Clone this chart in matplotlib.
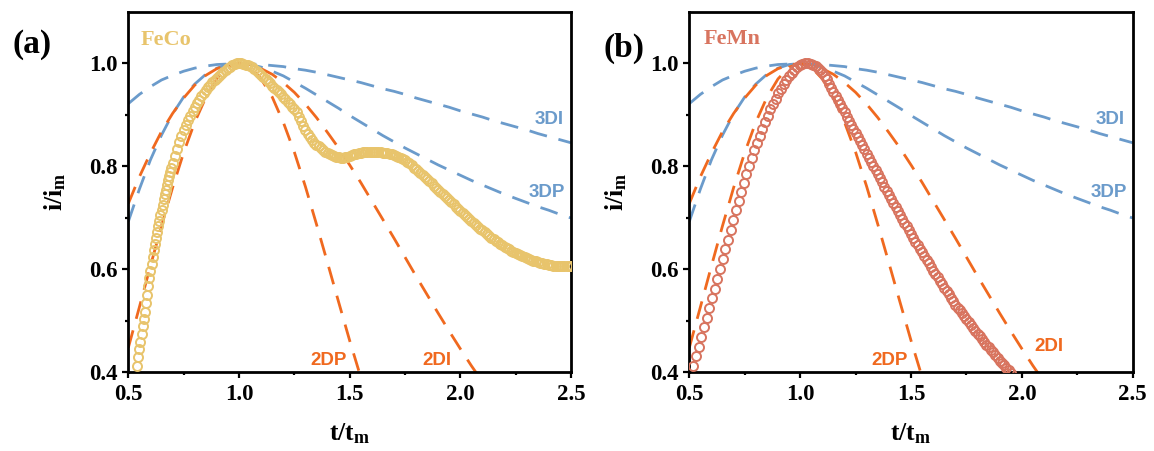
import matplotlib
matplotlib.use("Agg")
import matplotlib.pyplot as plt
from matplotlib.ticker import FixedLocator

plt.rcParams['mathtext.fontset'] = 'custom'
plt.rcParams['mathtext.bf'] = 'Liberation Serif:bold'
plt.rcParams['mathtext.rm'] = 'Liberation Serif'

# ---------------- data ----------------
T_GRID = [0.50, 0.55, 0.60, 0.65, 0.70, 0.75, 0.80, 0.85, 0.90, 0.95,
          1.00, 1.05, 1.10, 1.15, 1.20, 1.25, 1.30, 1.35, 1.40, 1.45,
          1.50, 1.55, 1.60, 1.65, 1.70, 1.75, 1.80, 1.85, 1.90, 1.95,
          2.00, 2.05, 2.10, 2.15, 2.20, 2.25, 2.30, 2.35, 2.40, 2.45, 2.50]

# upper blue dashed curve, labelled "3DI"
CURVE_3DI = [0.922, 0.940, 0.955, 0.968, 0.977, 0.985, 0.991, 0.995, 0.998, 0.999,
             1.000, 0.999, 0.998, 0.996, 0.994, 0.990, 0.987, 0.983, 0.978, 0.973,
             0.968, 0.963, 0.957, 0.951, 0.946, 0.940, 0.933, 0.927, 0.921, 0.915,
             0.908, 0.902, 0.896, 0.889, 0.883, 0.877, 0.871, 0.864, 0.858, 0.852, 0.846]
# lower blue dashed curve, labelled "3DP"
CURVE_3DP = [0.693, 0.756, 0.813, 0.861, 0.902, 0.935, 0.960, 0.979, 0.991, 0.998,
             1.000, 0.998, 0.993, 0.985, 0.976, 0.964, 0.952, 0.939, 0.926, 0.913,
             0.899, 0.886, 0.873, 0.860, 0.848, 0.836, 0.825, 0.814, 0.803, 0.793,
             0.783, 0.773, 0.764, 0.755, 0.746, 0.738, 0.730, 0.722, 0.715, 0.707, 0.700]
# orange dashed curve, labelled "2DI" (first 34 grid points)
CURVE_2DI = [0.728, 0.780, 0.826, 0.868, 0.903, 0.933, 0.958, 0.977, 0.990, 0.997,
             1.000, 0.998, 0.990, 0.979, 0.963, 0.944, 0.921, 0.895, 0.866, 0.836,
             0.803, 0.769, 0.733, 0.697, 0.661, 0.624, 0.587, 0.551, 0.515, 0.480,
             0.446, 0.413, 0.382, 0.351]
# orange dashed curve, labelled "2DP" (first 23 grid points)
CURVE_2DP = [0.448, 0.527, 0.607, 0.685, 0.759, 0.827, 0.886, 0.934, 0.970, 0.993,
             1.000, 0.993, 0.970, 0.935, 0.886, 0.828, 0.761, 0.688, 0.613, 0.537,
             0.462, 0.391, 0.325]

# FeCo experimental transient
FECO_X = [0.537, 0.545, 0.550, 0.555, 0.560, 0.565, 0.570, 0.575, 0.580, 0.585,
          0.590, 0.595, 0.600, 0.605, 0.610, 0.615, 0.620, 0.625, 0.630, 0.635,
          0.640, 0.645, 0.650, 0.655, 0.660, 0.665, 0.670, 0.675, 0.680, 0.685,
          0.690, 0.695, 0.700,
          0.71, 0.72, 0.73, 0.74, 0.75, 0.76, 0.77, 0.78, 0.79, 0.80,
          0.81, 0.82, 0.83, 0.84, 0.85, 0.86, 0.87, 0.88, 0.89, 0.90,
          0.91, 0.92, 0.93, 0.94, 0.95, 0.96, 0.97, 0.98, 0.99, 1.00,
          1.01, 1.02, 1.03, 1.04, 1.05, 1.06, 1.07, 1.08, 1.09, 1.10,
          1.11, 1.12, 1.13, 1.14, 1.15, 1.16, 1.17, 1.18, 1.19, 1.20,
          1.21, 1.22, 1.23, 1.24, 1.25, 1.26, 1.27, 1.28, 1.29, 1.30,
          1.31, 1.32, 1.33, 1.34, 1.35, 1.36, 1.37, 1.38, 1.39, 1.40,
          1.41, 1.42, 1.43, 1.44, 1.45, 1.46, 1.47, 1.48, 1.49, 1.50,
          1.51, 1.52, 1.53, 1.54, 1.55, 1.56, 1.57, 1.58, 1.59, 1.60,
          1.61, 1.62, 1.63, 1.64, 1.65, 1.66, 1.67, 1.68, 1.69, 1.70,
          1.71, 1.72, 1.73, 1.74, 1.75, 1.76, 1.77, 1.78, 1.79, 1.80,
          1.81, 1.82, 1.83, 1.84, 1.85, 1.86, 1.87, 1.88, 1.89, 1.90,
          1.91, 1.92, 1.93, 1.94, 1.95, 1.96, 1.97, 1.98, 1.99, 2.00,
          2.01, 2.02, 2.03, 2.04, 2.05, 2.06, 2.07, 2.08, 2.09, 2.10,
          2.11, 2.12, 2.13, 2.14, 2.15, 2.16, 2.17, 2.18, 2.19, 2.20,
          2.21, 2.22, 2.23, 2.24, 2.25, 2.26, 2.27, 2.28, 2.29, 2.30,
          2.31, 2.32, 2.33, 2.34, 2.35, 2.36, 2.37, 2.38, 2.39, 2.40,
          2.41, 2.42, 2.43, 2.44, 2.45, 2.46, 2.47, 2.48, 2.49, 2.50]
FECO_Y = [0.412, 0.430, 0.445, 0.460, 0.475, 0.490, 0.504, 0.518, 0.534, 0.551,
          0.568, 0.583, 0.597, 0.611, 0.624, 0.637, 0.649, 0.661, 0.673, 0.684,
          0.695, 0.706, 0.716, 0.726, 0.736, 0.746, 0.755, 0.764, 0.773, 0.782,
          0.790, 0.798, 0.806,
          0.820, 0.834, 0.847, 0.859, 0.870, 0.880, 0.890, 0.899, 0.908, 0.916,
          0.923, 0.930, 0.937, 0.943, 0.949, 0.954, 0.959, 0.964, 0.968, 0.972,
          0.976, 0.980, 0.984, 0.988, 0.991, 0.994, 0.997, 0.999, 1.000, 1.000,
          1.000, 0.999, 0.998, 0.997, 0.995, 0.993, 0.990, 0.986, 0.982, 0.978,
          0.974, 0.970, 0.966, 0.962, 0.957, 0.953, 0.949, 0.944, 0.940, 0.935,
          0.931, 0.926, 0.921, 0.916, 0.911, 0.905, 0.897, 0.888, 0.879, 0.871,
          0.864, 0.857, 0.851, 0.846, 0.842, 0.839, 0.835, 0.832, 0.829, 0.827,
          0.825, 0.823, 0.821, 0.819, 0.818, 0.817, 0.817, 0.818, 0.819, 0.821,
          0.822, 0.824, 0.825, 0.826, 0.827, 0.828, 0.828, 0.829, 0.829, 0.829,
          0.829, 0.829, 0.828, 0.828, 0.827, 0.827, 0.826, 0.825, 0.824, 0.822,
          0.821, 0.819, 0.817, 0.815, 0.812, 0.809, 0.806, 0.802, 0.798, 0.795,
          0.791, 0.787, 0.783, 0.779, 0.775, 0.771, 0.767, 0.763, 0.759, 0.755,
          0.751, 0.747, 0.743, 0.739, 0.735, 0.731, 0.727, 0.722, 0.718, 0.714,
          0.710, 0.706, 0.702, 0.698, 0.694, 0.690, 0.687, 0.683, 0.679, 0.676,
          0.672, 0.669, 0.665, 0.662, 0.659, 0.656, 0.653, 0.650, 0.647, 0.644,
          0.641, 0.639, 0.636, 0.634, 0.632, 0.630, 0.628, 0.626, 0.624, 0.622,
          0.620, 0.619, 0.617, 0.616, 0.614, 0.613, 0.612, 0.611, 0.610, 0.609,
          0.608, 0.607, 0.607, 0.606, 0.606, 0.606, 0.606, 0.606, 0.606, 0.607]

# FeMn experimental transient
FEMN_X = [0.518, 0.530, 0.542, 0.554, 0.566, 0.578, 0.590, 0.602, 0.614, 0.626,
          0.638, 0.650, 0.662, 0.674, 0.686, 0.698, 0.710, 0.722, 0.734, 0.746,
          0.758, 0.770, 0.782, 0.794, 0.806, 0.818, 0.830, 0.842, 0.854, 0.866,
          0.878, 0.890, 0.902, 0.914, 0.926, 0.938, 0.950, 0.962, 0.974, 0.986,
          0.998, 1.010, 1.022, 1.034,
          1.05, 1.06, 1.07, 1.08, 1.09, 1.10, 1.11, 1.12, 1.13, 1.14,
          1.15, 1.16, 1.17, 1.18, 1.19, 1.20, 1.21, 1.22, 1.23, 1.24,
          1.25, 1.26, 1.27, 1.28, 1.29, 1.30, 1.31, 1.32, 1.33, 1.34,
          1.35, 1.36, 1.37, 1.38, 1.39, 1.40, 1.41, 1.42, 1.43, 1.44,
          1.45, 1.46, 1.47, 1.48, 1.49, 1.50, 1.51, 1.52, 1.53, 1.54,
          1.55, 1.56, 1.57, 1.58, 1.59, 1.60, 1.61, 1.62, 1.63, 1.64,
          1.65, 1.66, 1.67, 1.68, 1.69, 1.70, 1.71, 1.72, 1.73, 1.74,
          1.75, 1.76, 1.77, 1.78, 1.79, 1.80, 1.81, 1.82, 1.83, 1.84,
          1.85, 1.86, 1.87, 1.88, 1.89, 1.90, 1.91, 1.92, 1.93, 1.94, 1.95]
FEMN_Y = [0.413, 0.432, 0.450, 0.469, 0.488, 0.506, 0.525, 0.544, 0.563, 0.582,
          0.601, 0.620, 0.639, 0.658, 0.677, 0.696, 0.715, 0.733, 0.751, 0.768,
          0.785, 0.801, 0.817, 0.832, 0.846, 0.860, 0.873, 0.887, 0.899, 0.911,
          0.922, 0.932, 0.942, 0.951, 0.960, 0.968, 0.975, 0.982, 0.988, 0.993,
          0.997, 0.999, 1.000, 1.000,
          0.999, 0.998, 0.996, 0.992, 0.988, 0.983, 0.976, 0.969, 0.961, 0.953,
          0.945, 0.937, 0.929, 0.921, 0.913, 0.905, 0.897, 0.889, 0.881, 0.873,
          0.865, 0.857, 0.849, 0.841, 0.833, 0.825, 0.817, 0.809, 0.801, 0.793,
          0.785, 0.777, 0.769, 0.761, 0.753, 0.745, 0.737, 0.729, 0.722, 0.714,
          0.706, 0.699, 0.691, 0.684, 0.676, 0.669, 0.662, 0.654, 0.647, 0.640,
          0.633, 0.626, 0.619, 0.612, 0.605, 0.598, 0.591, 0.585, 0.578, 0.571,
          0.565, 0.558, 0.552, 0.545, 0.539, 0.532, 0.526, 0.521, 0.515, 0.509,
          0.503, 0.498, 0.492, 0.486, 0.481, 0.475, 0.470, 0.465, 0.459, 0.454,
          0.449, 0.444, 0.439, 0.433, 0.428, 0.423, 0.418, 0.414, 0.409, 0.404, 0.399]

X_TICKS = [0.5, 1.0, 1.5, 2.0, 2.5]
Y_TICKS = [0.4, 0.6, 0.8, 1.0]
X_MINOR = [0.75, 1.25, 1.75, 2.25]
Y_MINOR = [0.5, 0.7, 0.9]

# ---------------- styling ----------------
BLUE = '#6b9bcb'
ORANGE = '#f0691f'
GOLD = '#e8c46c'
SALMON = '#d8745f'
SERIF = 'Liberation Serif'
SANS = 'Liberation Sans'

fig = plt.figure(figsize=(11.54, 4.51), dpi=100)
ax_a = fig.add_axes([0.1112, 0.1741, 0.3836, 0.7993])
ax_b = fig.add_axes([0.5973, 0.1741, 0.3843, 0.7993])

def draw_panel(ax, xs, ys, color, name, name_xy, label_2di_xy):
    dash = dict(lw=2.0, dashes=(6.5, 4.3), zorder=2)
    ax.plot(T_GRID, CURVE_3DI, color=BLUE, **dash)
    ax.plot(T_GRID, CURVE_3DP, color=BLUE, **dash)
    ax.plot(T_GRID[:len(CURVE_2DI)], CURVE_2DI, color=ORANGE, **dash)
    ax.plot(T_GRID[:len(CURVE_2DP)], CURVE_2DP, color=ORANGE, **dash)
    ax.plot(xs, ys, ls='none', marker='o', ms=6.5, mfc='none', mec=color,
            mew=1.4, zorder=3)
    ax.set_xlim(0.5, 2.5)
    ax.set_ylim(0.4, 1.1)
    ax.xaxis.set_major_locator(FixedLocator(X_TICKS))
    ax.yaxis.set_major_locator(FixedLocator(Y_TICKS))
    ax.xaxis.set_minor_locator(FixedLocator(X_MINOR))
    ax.yaxis.set_minor_locator(FixedLocator(Y_MINOR))
    ax.set_xticklabels([f'{v:.1f}' for v in X_TICKS])
    ax.set_yticklabels([f'{v:.1f}' for v in Y_TICKS])
    for sp in ax.spines.values():
        sp.set_linewidth(2.0)
    ax.tick_params(which='major', direction='out', length=4, width=1.6, pad=4,
                   top=False, right=False)
    ax.tick_params(which='minor', direction='out', length=2.5, width=1.6,
                   top=False, right=False)
    for lab in ax.get_xticklabels() + ax.get_yticklabels():
        lab.set_fontfamily(SERIF)
        lab.set_fontweight('bold')
        lab.set_fontsize(16.5)
    ax.set_xlabel(r'$\mathbf{t/t_m}$', fontsize=18.5, va='center')
    ax.xaxis.set_label_coords(0.5, -0.168)
    ax.set_ylabel(r'$\mathbf{i/i_m}$', fontsize=18.5, va='center')
    ax.yaxis.set_label_coords(-0.164, 0.5)
    lab_kw = dict(fontfamily=SANS, fontweight='bold', fontsize=13.5,
                  ha='center', va='center')
    ax.text(2.40, 0.891, '3DI', color=BLUE, **lab_kw)
    ax.text(2.39, 0.750, '3DP', color=BLUE, **lab_kw)
    ax.text(1.405, 0.423, '2DP', color=ORANGE, **lab_kw)
    ax.text(label_2di_xy[0], label_2di_xy[1], '2DI', color=ORANGE, **lab_kw)
    ax.text(name_xy[0], name_xy[1], name, color=color, fontfamily=SERIF,
            fontweight='bold', fontsize=16, ha='center', va='center')

draw_panel(ax_a, FECO_X, FECO_Y, GOLD, 'FeCo', (0.669, 1.046), (1.894, 0.424))
draw_panel(ax_b, FEMN_X, FEMN_Y, SALMON, 'FeMn', (0.694, 1.048), (2.121, 0.451))

fig.text(32 / 1154, 1 - 44 / 451, '(a)', fontfamily=SERIF, fontweight='bold',
         fontsize=24, ha='center', va='center')
fig.text(624 / 1154, 1 - 48 / 451, '(b)', fontfamily=SERIF, fontweight='bold',
         fontsize=24, ha='center', va='center')

fig.savefig('out.png', dpi=100)
